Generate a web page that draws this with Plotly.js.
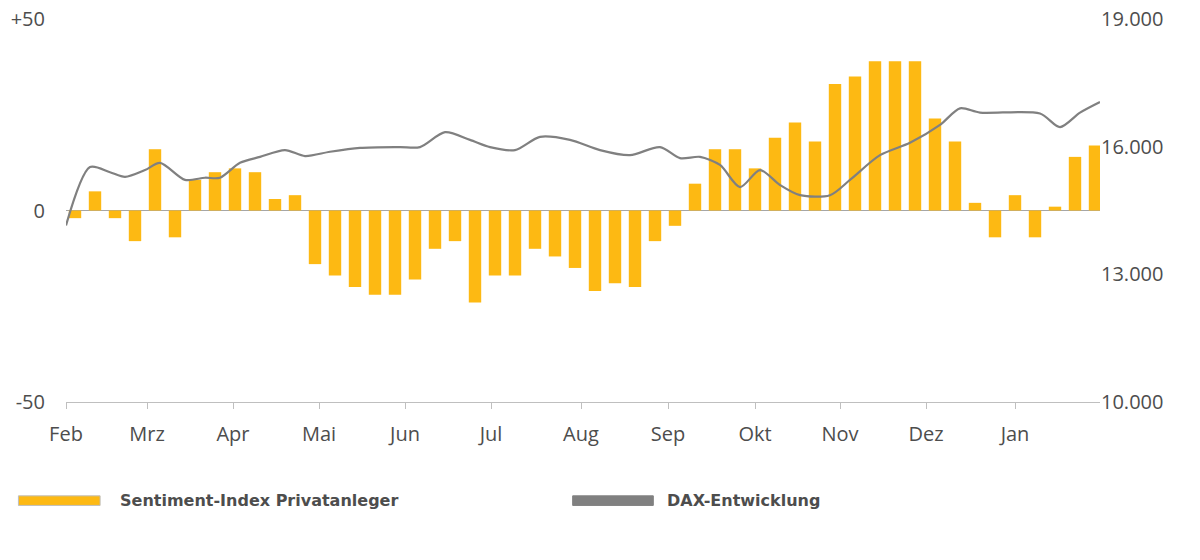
<!DOCTYPE html>
<html>
<head>
<meta charset="utf-8">
<script src="https://cdn.plot.ly/plotly-3.0.1.min.js"></script>
<style>body{margin:0;background:#fff}</style>
</head>
<body>
<div id="chart" style="width:1200px;height:560px"></div>
<script>
// weekly sentiment index (bars), week 0 = early Feb
const sentiment = [-2, 5, -2, -8, 16, -7, 8, 10, 11, 10, 3, 4,
  -14, -17, -20, -22, -22, -18, -10, -8, -24, -17, -17, -10, -12, -15,
  -21, -19, -20, -8, -4, 7, 16, 16, 11, 19, 23, 18, 33, 35, 39, 39, 39,
  24, 18, 2, -7, 4, -7, 1, 14, 17];
const weeks = sentiment.map((v, i) => i);

// DAX curve, x in week units
const daxX = [-0.45, 0.75, 1.75, 2.5, 3.5, 4.25, 5.5, 6.5, 7.25, 8.25, 9.25, 10.5, 11.5,
  12.75, 14.25, 16.25, 17.25, 18.5, 19.75, 20.75, 22, 23.25, 24.75, 26.25, 27.75,
  29.25, 30.25, 31.25, 32.25, 33.25, 34.25, 35.25, 36.25, 37.75, 38.75, 40.25,
  41.75, 43.25, 44.25, 45.25, 48.25, 49.25, 50.25, 51.25];
const dax = [14150, 15520, 15400, 15290, 15450, 15620, 15220, 15270, 15270, 15620,
  15760, 15920, 15780, 15880, 15970, 15990, 15990, 16340, 16160, 15990, 15920,
  16230, 16160, 15920, 15800, 15990, 15730, 15760, 15570, 15050, 15450, 15100,
  14860, 14860, 15220, 15800, 16090, 16510, 16900, 16800, 16780, 16460, 16800, 17050];

const monthLabels = ['Feb', 'Mrz', 'Apr', 'Mai', 'Jun', 'Jul', 'Aug', 'Sep', 'Okt', 'Nov', 'Dez', 'Jan'];
const monthPos = [-0.45, 3.6, 7.9, 12.2, 16.5, 20.8, 25.3, 29.65, 34, 38.25, 42.55, 47];

const txt = '#4d4d4d';
const data = [
  {type: 'bar', x: weeks, y: sentiment, marker: {color: '#FDB913'}, width: 0.62,
   name: 'Sentiment-Index Privatanleger'},
  {type: 'scatter', mode: 'lines', x: daxX, y: dax, yaxis: 'y2',
   line: {color: '#808080', width: 2.2, shape: 'spline', smoothing: 0.8},
   name: 'DAX-Entwicklung'}
];

const layout = {
  width: 1200, height: 560,
  margin: {l: 66, r: 100, t: 19, b: 158},
  showlegend: false,
  plot_bgcolor: '#fff', paper_bgcolor: '#fff',
  font: {family: 'Open Sans, sans-serif', color: txt, size: 20},
  xaxis: {range: [-0.45, 51.25], tickvals: monthPos, ticktext: monthLabels,
    showgrid: false, zeroline: false, showline: true, linecolor: '#bfbfbf',
    ticks: 'outside', ticklen: 6, tickcolor: '#bfbfbf', ticklabelstandoff: 8,
    tickfont: {size: 20, color: txt}},
  yaxis: {range: [-50, 50], tickvals: [-50, 0, 50], ticktext: ['-50', '0', '+50'],
    showgrid: false, zeroline: true, zerolinecolor: '#a6a6a6', zerolinewidth: 1,
    ticklabelstandoff: 20, tickfont: {size: 20, color: txt}},
  yaxis2: {overlaying: 'y', side: 'right', range: [10000, 19000],
    tickvals: [10000, 13000, 16000, 19000],
    ticktext: ['10.000', '13.000', '16.000', '19.000'],
    showgrid: false, zeroline: false, tickfont: {size: 20, color: txt}},
  shapes: [
    {type: 'rect', xref: 'paper', yref: 'paper', x0: -0.046, x1: 0.033, y0: -0.27, y1: -0.245,
     fillcolor: '#FDB913', line: {color: '#bfbfbf', width: 1}},
    {type: 'rect', xref: 'paper', yref: 'paper', x0: 0.49, x1: 0.568, y0: -0.27, y1: -0.245,
     fillcolor: '#808080', line: {color: '#808080', width: 1}}
  ],
  annotations: [
    {xref: 'paper', yref: 'paper', x: 0.05, y: -0.2575, xanchor: 'left', yanchor: 'middle',
     text: '<b>Sentiment-Index Privatanleger</b>', showarrow: false,
     font: {size: 16, color: txt, family: 'DejaVu Sans, sans-serif'}},
    {xref: 'paper', yref: 'paper', x: 0.579, y: -0.2575, xanchor: 'left', yanchor: 'middle',
     text: '<b>DAX-Entwicklung</b>', showarrow: false,
     font: {size: 16, color: txt, family: 'DejaVu Sans, sans-serif'}}
  ]
};

Plotly.newPlot('chart', data, layout, {staticPlot: true});
</script>
</body>
</html>
